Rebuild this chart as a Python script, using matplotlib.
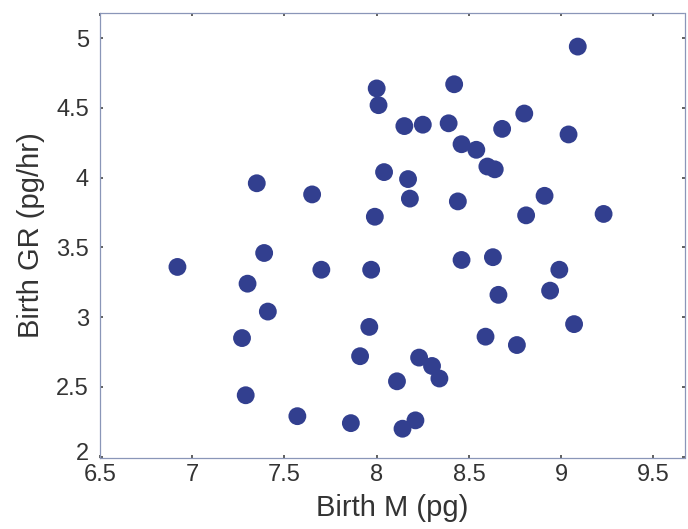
import matplotlib
matplotlib.use("Agg")
import matplotlib.pyplot as plt
import matplotlib.transforms as mtransforms

birth_m = [6.92, 7.35, 7.39, 7.30, 7.41, 7.27, 7.29, 7.57, 7.65, 7.70,
           7.86, 7.91, 7.96, 7.97, 7.99, 8.00, 8.01, 8.04, 8.17, 8.18,
           8.15, 8.25, 8.11, 8.14, 8.21, 8.23, 8.30, 8.34, 8.39, 8.42,
           8.44, 8.46, 8.46, 8.54, 8.60, 8.64, 8.68, 8.63, 8.66, 8.59,
           8.76, 8.80, 8.81, 8.91, 8.94, 8.99, 9.04, 9.07, 9.09, 9.23]
birth_gr = [3.36, 3.96, 3.46, 3.24, 3.04, 2.85, 2.44, 2.29, 3.88, 3.34,
            2.24, 2.72, 2.93, 3.34, 3.72, 4.64, 4.52, 4.04, 3.99, 3.85,
            4.37, 4.38, 2.54, 2.20, 2.26, 2.71, 2.65, 2.56, 4.39, 4.67,
            3.83, 3.41, 4.24, 4.20, 4.08, 4.06, 4.35, 3.43, 3.16, 2.86,
            2.80, 4.46, 3.73, 3.87, 3.19, 3.34, 4.31, 2.95, 4.94, 3.74]

x_ticks = [6.5, 7, 7.5, 8, 8.5, 9, 9.5]
x_tick_labels = ["6.5", "7", "7.5", "8", "8.5", "9", "9.5"]
y_ticks = [2, 2.5, 3, 3.5, 4, 4.5, 5]
y_tick_labels = ["2", "2.5", "3", "3.5", "4", "4.5", "5"]

plt.rcParams['font.family'] = ['Liberation Sans', 'DejaVu Sans']

fig = plt.figure(figsize=(6.88, 5.29), dpi=100)
ax = fig.add_axes([0.1453, 0.1342, 0.850, 0.841])

ax.scatter(birth_m, birth_gr, s=165, color='#323f8f', edgecolors='none', zorder=3)

ax.set_xlim(6.5, 9.67)
ax.set_ylim(1.99, 5.18)
ax.set_xticks(x_ticks)
ax.set_xticklabels(x_tick_labels)
ax.set_yticks(y_ticks)
ax.set_yticklabels(y_tick_labels)

ax.tick_params(direction='in', length=2, width=1.2, color='#444444',
               labelsize=17, labelcolor='#333333', top=True, right=True)
ax.tick_params(axis='x', pad=4)
ax.tick_params(axis='y', pad=8)

# nudge the lowest y label up slightly so it does not collide with "6.5"
lbl = ax.get_yticklabels()[0]
lbl.set_transform(lbl.get_transform() +
                  mtransforms.ScaledTranslation(0, 5 / 100, fig.dpi_scale_trans))

for sp in ax.spines.values():
    sp.set_color('#8a96b8')
    sp.set_linewidth(0.9)
    sp.set_linestyle((0, (2, 1)))

ax.set_xlabel("Birth M (pg)", fontsize=21, color='#333333', labelpad=6)
ax.set_ylabel("Birth GR (pg/hr)", fontsize=21, color='#333333', labelpad=8)

fig.savefig("out.png", dpi=100)
